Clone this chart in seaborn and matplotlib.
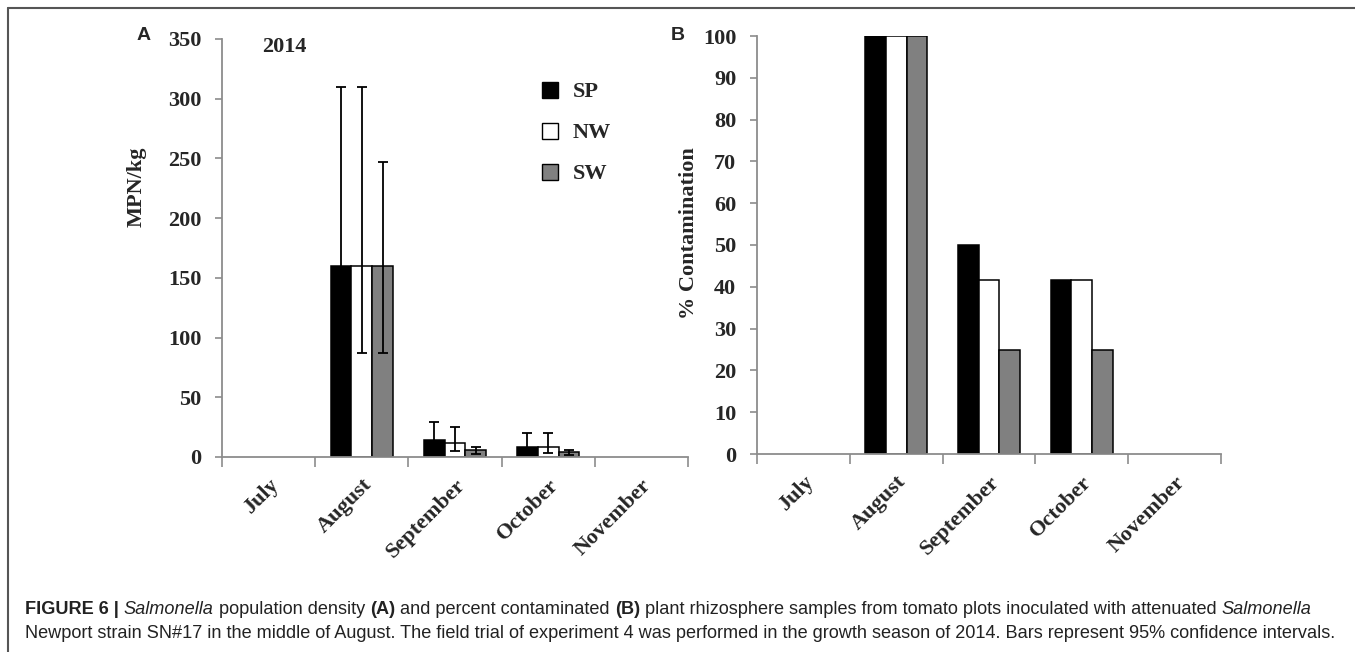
import matplotlib
matplotlib.use("Agg")
import matplotlib.pyplot as plt
import matplotlib.patches as mpatches
from matplotlib.lines import Line2D
import seaborn as sns
import pandas as pd
import numpy as np

# ---------------- data ----------------
months = ["July", "August", "September", "October", "November"]
sites = ["SP", "NW", "SW"]
colors = ["#000000", "#ffffff", "#808080"]

mpn_SP = [0, 160, 14, 8.5, 0]
mpn_NW = [0, 160, 12, 8.5, 0]
mpn_SW = [0, 160, 6, 4.5, 0]
mpn_hi_SP = [0, 310, 29, 20, 0]
mpn_hi_NW = [0, 310, 25, 20, 0]
mpn_hi_SW = [0, 247, 8.5, 6, 0]
mpn_lo_SP = [0, 87, 5, 3, 0]
mpn_lo_NW = [0, 87, 5.3, 3.4, 0]
mpn_lo_SW = [0, 87, 2.8, 2, 0]

pct_SP = [0, 100, 50, 41.7, 0]
pct_NW = [0, 100, 41.7, 41.7, 0]
pct_SW = [0, 100, 25, 25, 0]

df_mpn = pd.DataFrame({
    "month": months * 3,
    "site": [s for s in sites for _ in months],
    "value": mpn_SP + mpn_NW + mpn_SW,
    "lo": mpn_lo_SP + mpn_lo_NW + mpn_lo_SW,
    "hi": mpn_hi_SP + mpn_hi_NW + mpn_hi_SW,
})
df_pct = pd.DataFrame({
    "month": months * 3,
    "site": [s for s in sites for _ in months],
    "value": pct_SP + pct_NW + pct_SW,
})

# ---------------- style ----------------
sns.set_style("white")
plt.rcParams["font.family"] = ["Liberation Serif", "DejaVu Serif"]
plt.rcParams["font.weight"] = "bold"
SERIF = ["Liberation Serif", "DejaVu Serif"]
SANS = ["Liberation Sans", "DejaVu Sans"]
SPINE = "#8c8c8c"
FS = 16

W, H = 1355, 652
fig = plt.figure(figsize=(W / 100, H / 100), dpi=100)
fig.patch.set_facecolor("white")

axA = fig.add_axes([222 / W, (H - 457) / H, 466 / W, 418 / H])
axB = fig.add_axes([757 / W, (H - 454) / H, 464 / W, 418 / H])


def style_axis(ax, ymax, step):
    for s in ["top", "right"]:
        ax.spines[s].set_visible(False)
    for s in ["left", "bottom"]:
        ax.spines[s].set_color(SPINE)
        ax.spines[s].set_linewidth(1.3)
    ax.set_xlim(-0.5, len(months) - 0.5)
    ax.set_ylim(0, ymax)
    ax.set_yticks(np.arange(0, ymax + 0.1, step))
    ax.set_yticklabels([f"{int(v)}" for v in np.arange(0, ymax + 0.1, step)],
                       fontsize=FS, fontweight="bold", family=SERIF)
    ax.tick_params(axis="y", which="major", left=True, direction="out", length=5,
                   width=1.2, color=SPINE, pad=10)
    ax.set_xticks(range(len(months)))
    ax.set_xticklabels(months, rotation=45, ha="right", rotation_mode="anchor",
                       fontsize=FS, fontweight="bold", family=SERIF)
    ax.tick_params(axis="x", which="major", bottom=True, length=0, pad=13)
    ax.set_xticks(np.arange(-0.5, len(months), 1.0), minor=True)
    ax.tick_params(axis="x", which="minor", bottom=True, direction="out", length=7,
                   width=1.2, color=SPINE)
    ax.set_xlabel("")
    ax.grid(False)


# ---------------- panel A ----------------
sns.barplot(data=df_mpn, x="month", y="value", hue="site", order=months, hue_order=sites,
            palette=colors, edgecolor="black", linewidth=1.1, width=0.667,
            errorbar=None, legend=False, ax=axA, zorder=2)
for i, site in enumerate(sites):
    sub = df_mpn[df_mpn.site == site].set_index("month").loc[months]
    cont = axA.containers[i]
    xs, ys, lo, hi = [], [], [], []
    for bar, (_, row) in zip(cont, sub.iterrows()):
        if row["value"] <= 0:
            bar.set_linewidth(0)
            continue
        xs.append(bar.get_x() + bar.get_width() / 2)
        ys.append(row["value"])
        lo.append(row["value"] - row["lo"])
        hi.append(row["hi"] - row["value"])
    axA.errorbar(xs, ys, yerr=[lo, hi], fmt="none", ecolor="black", elinewidth=1.3,
                 capsize=3.4, capthick=1.3, zorder=3)
style_axis(axA, 350, 50)
axA.set_ylabel("MPN/kg", fontsize=FS, fontweight="bold", family=SERIF)
axA.yaxis.set_label_coords(-0.161, 0.646)
axA.text(0.133, 0.981, "2014", transform=axA.transAxes, ha="center", va="center",
         fontsize=FS, fontweight="bold", family=SERIF)

handles = [mpatches.Patch(facecolor=c, edgecolor="black", linewidth=1.0) for c in colors]
leg = axA.legend(handles, sites, loc="upper left", bbox_to_anchor=(0.687, 0.898),
                 frameon=False, prop={"family": SERIF, "weight": "bold", "size": FS},
                 handlelength=0.73, handleheight=0.73, handletextpad=0.64,
                 labelspacing=0.91, borderpad=0, borderaxespad=0)

# ---------------- panel B ----------------
sns.barplot(data=df_pct, x="month", y="value", hue="site", order=months, hue_order=sites,
            palette=colors, edgecolor="black", linewidth=1.1, width=0.667,
            errorbar=None, legend=False, ax=axB, zorder=2)
for cont in axB.containers:
    for bar in cont:
        if bar.get_height() <= 0:
            bar.set_linewidth(0)
style_axis(axB, 100, 10)
axB.set_ylabel("% Contamination", fontsize=FS, fontweight="bold", family=SERIF)
axB.yaxis.set_label_coords(-0.125, 0.529)

# panel letters
fig.text(144 / W, (H - 35) / H, "A", ha="center", va="center", fontsize=14,
         fontweight="bold", family=SANS)
fig.text(678 / W, (H - 35) / H, "B", ha="center", va="center", fontsize=14,
         fontweight="bold", family=SANS)

# figure frame (top and left edges visible)
fig.add_artist(Line2D([8 / W, 1.0], [(H - 8) / H, (H - 8) / H], transform=fig.transFigure,
                      color="#555555", lw=1.5))
fig.add_artist(Line2D([8 / W, 8 / W], [0, (H - 8) / H], transform=fig.transFigure,
                      color="#555555", lw=1.5))

# ---------------- caption ----------------
CAP = ["Liberation Sans", "DejaVu Sans"]
line1 = [("FIGURE 6 | ", "bold", "normal"), ("Salmonella", "normal", "italic"),
         (" population density ", "normal", "normal"), ("(A)", "bold", "normal"),
         (" and percent contaminated ", "normal", "normal"), ("(B)", "bold", "normal"),
         (" plant rhizosphere samples from tomato plots inoculated with attenuated ", "normal", "normal"),
         ("Salmonella", "normal", "italic")]
line2 = [("Newport strain SN#17 in the middle of August. The field trial of experiment 4 was "
          "performed in the growth season of 2014. Bars represent 95% confidence intervals.",
          "normal", "normal")]

renderer = fig.canvas.get_renderer()


def draw_line(segs, x0, y, size):
    arts = []
    x = x0
    for txt, wt, st in segs:
        t = fig.text(x / W, y / H, txt, ha="left", va="baseline", fontsize=size,
                     fontweight=wt, fontstyle=st, family=CAP, color="#222222")
        bb = t.get_window_extent(renderer=renderer)
        x += bb.width
        arts.append(t)
    return arts, x - x0


base = 11.0
a1, w1 = draw_line(line1, 25, H - 614, base)
a2, w2 = draw_line(line2, 25, H - 638, base)
for a in a1 + a2:
    a.remove()
size = base * ((1285 / w1) + (1313 / w2)) / 2
draw_line(line1, 25, H - 614, size)
draw_line(line2, 25, H - 638, size)

fig.savefig("out.png", dpi=100, facecolor="white")
